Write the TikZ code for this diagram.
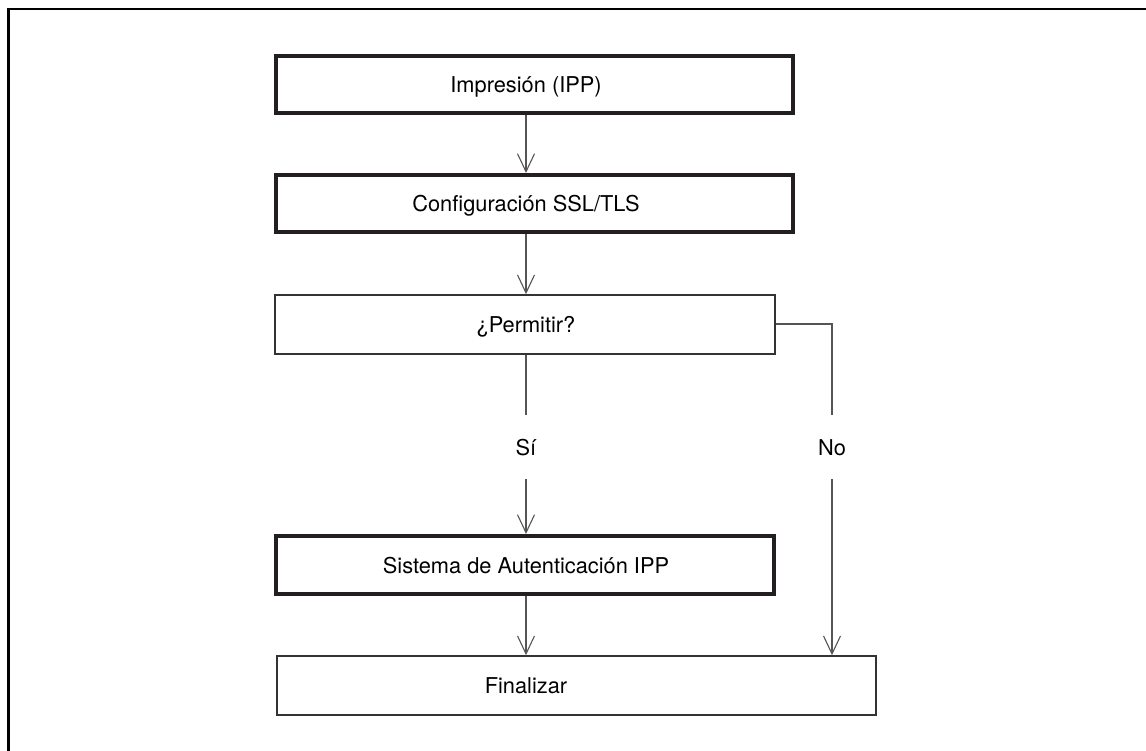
\documentclass[tikz,border=0pt]{standalone}
\usepackage{fontspec}
\setmainfont{TeX Gyre Heros}
\usetikzlibrary{arrows.meta}
\definecolor{boxdark}{HTML}{231F20}
\definecolor{thinline}{HTML}{333333}
\definecolor{conn}{HTML}{555555}
\begin{document}
\begin{tikzpicture}[x=1pt,y=-1pt,
  thickbox/.style={draw=boxdark,line width=4pt,inner sep=0pt,rectangle},
  thinbox/.style={draw=thinline,line width=1.6pt,inner sep=0pt,rectangle},
  lbl/.style={anchor=base,inner sep=0pt,font=\fontsize{21.8}{26}\selectfont},
  line/.style={draw=conn,line width=1.1pt},
  arr/.style={line,-{Straight Barb[length=18pt,width=17pt,line width=1.1pt]}},
  frame/.style={draw=black,line width=2.6pt}]
\useasboundingbox (0,0) rectangle (1146,751);
\draw[frame] (8.3,752) -- (8.3,9) -- (1147,9);
% boxes
\node[thickbox,minimum width=517pt,minimum height=57pt] (b1) at (534.5,84.5) {};
\node[thickbox,minimum width=517pt,minimum height=57pt] (b2) at (534.5,203.5) {};
\node[thinbox,minimum width=500pt,minimum height=59pt] (b3) at (525,324.5) {};
\node[thickbox,minimum width=498pt,minimum height=58pt] (b4) at (525,565) {};
\node[thinbox,minimum width=599pt,minimum height=59pt] (b5) at (576.5,685.5) {};
% texts
\node[lbl] (t1) at (526,92.6) {Impresión (IPP)};
\node[lbl] (t2) at (526,211.6) {Configuración SSL/TLS};
\node[lbl] (t3) at (526,332.6) {¿Permitir?};
\node[lbl] (t4) at (526,573.3) {Sistema de Autenticación IPP};
\node[lbl] (t5) at (526,693.6) {Finalizar};
\node[lbl] (ys) at (526,455.5) {Sí};
\node[lbl] (no) at (832,455.5) {No};
% column coordinates
\coordinate (col) at (526,0);
\coordinate (ncol) at (832,0);
\coordinate (siend) at (526,415);
\coordinate (sistart) at (526,479);
\coordinate (noturn) at (832,324);
\coordinate (noend) at (832,415);
\coordinate (nostart) at (832,479);
% connectors
\draw[arr] (b1.south -| col) -- (b2.north -| col);
\draw[arr] (b2.south -| col) -- (b3.north -| col);
\draw[line] (b3.south -| col) -- (siend);
\draw[arr] (sistart) -- (b4.north -| col);
\draw[arr] (b4.south -| col) -- (b5.north -| col);
\draw[line] (b3.east |- noturn) -- (noturn) -- (noend);
\draw[arr] (nostart) -- (b5.north -| ncol);
\end{tikzpicture}
\end{document}
